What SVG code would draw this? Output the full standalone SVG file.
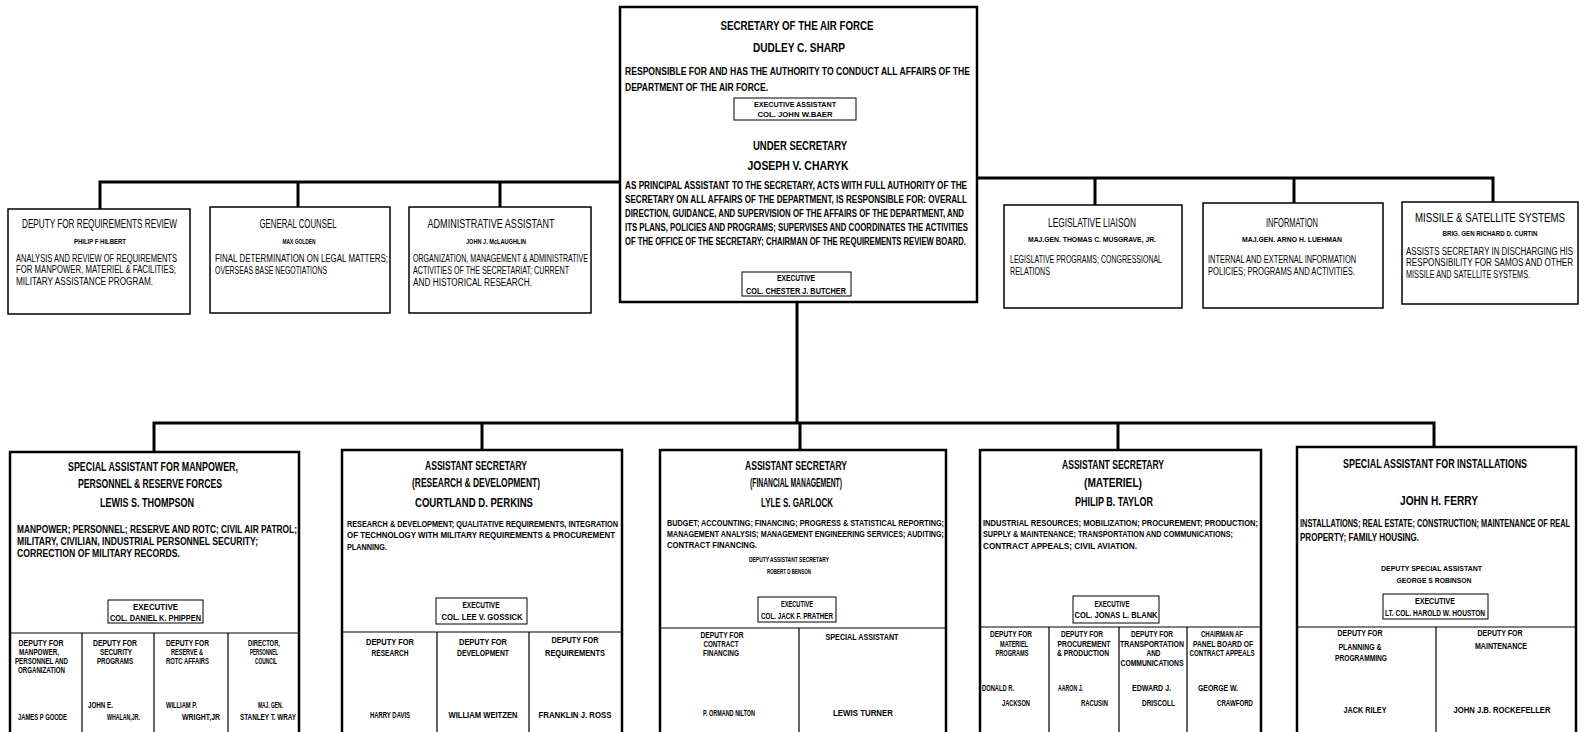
<svg xmlns="http://www.w3.org/2000/svg" width="1585" height="732" viewBox="0 0 1585 732">
<style>
text{font-family:"Liberation Sans",Arial,sans-serif;fill:#000}
.h{font-size:12.5px;font-weight:bold}
.hl{font-size:13px}
.pt{font-size:11px;font-weight:bold}
.p{font-size:10px;font-weight:bold}
.q{font-size:9.5px;font-weight:bold}
.pl{font-size:10px}
.s{font-size:7px;font-weight:bold}
.c{font-size:8.5px;font-weight:bold}
.x{font-size:8.5px;font-weight:bold}
.m{text-anchor:middle}
.e{text-anchor:end}
.box{fill:#fff;stroke:#000;stroke-width:2.5}
.lbox{fill:#fff;stroke:#000;stroke-width:1.5}
.ebox{fill:none;stroke:#000;stroke-width:1}
.div{stroke:#000;stroke-width:1.2;fill:none}
.con{stroke:#000;stroke-width:3;fill:none}
</style>
<rect x="0" y="0" width="1585" height="732" fill="#fff"/>
<g id="connectors">
<path class="con" d="M100 209V182H620M977 178H1493V202M298 182V207M500 182V207M1095 178V205M1294 178V203"/>
<path class="con" d="M797 302V423M154 452V423H1434V447M482 423V450M800 423V450M1118 423V450"/>
</g>
<g id="secretary">
<rect class="box" x="620" y="7" width="357" height="295"/>
<text class="h m" x="797" y="29.5" textLength="153" lengthAdjust="spacingAndGlyphs">SECRETARY OF THE AIR FORCE</text>
<text class="h m" x="799" y="51.5" textLength="92" lengthAdjust="spacingAndGlyphs">DUDLEY C. SHARP</text>
<text class="pt" x="625" y="75" textLength="345" lengthAdjust="spacingAndGlyphs">RESPONSIBLE FOR AND HAS THE AUTHORITY TO CONDUCT ALL AFFAIRS OF THE</text>
<text class="pt" x="625" y="91" textLength="143" lengthAdjust="spacingAndGlyphs">DEPARTMENT OF THE AIR FORCE.</text>
<rect class="ebox" x="734" y="98" width="122" height="22"/>
<text class="s m" x="795" y="107" textLength="82" lengthAdjust="spacingAndGlyphs">EXECUTIVE ASSISTANT</text>
<text class="s m" x="795" y="117" textLength="75" lengthAdjust="spacingAndGlyphs">COL. JOHN W.BAER</text>
<text class="h m" x="800" y="149.5" textLength="94" lengthAdjust="spacingAndGlyphs">UNDER SECRETARY</text>
<text class="h m" x="798" y="169.5" textLength="101" lengthAdjust="spacingAndGlyphs">JOSEPH V. CHARYK</text>
<text class="pt" x="625" y="189" textLength="342" lengthAdjust="spacingAndGlyphs">AS PRINCIPAL ASSISTANT TO THE SECRETARY, ACTS WITH FULL AUTHORITY OF THE</text>
<text class="pt" x="625" y="203" textLength="342" lengthAdjust="spacingAndGlyphs">SECRETARY ON ALL AFFAIRS OF THE DEPARTMENT, IS RESPONSIBLE FOR: OVERALL</text>
<text class="pt" x="625" y="217" textLength="339" lengthAdjust="spacingAndGlyphs">DIRECTION, GUIDANCE, AND SUPERVISION OF THE AFFAIRS OF THE DEPARTMENT, AND</text>
<text class="pt" x="625" y="231" textLength="343" lengthAdjust="spacingAndGlyphs">ITS PLANS, POLICIES AND PROGRAMS; SUPERVISES AND COORDINATES THE ACTIVITIES</text>
<text class="pt" x="625" y="245" textLength="341" lengthAdjust="spacingAndGlyphs">OF THE OFFICE OF THE SECRETARY; CHAIRMAN OF THE REQUIREMENTS REVIEW BOARD.</text>
<rect class="ebox" x="742" y="272" width="109" height="24"/>
<text class="x m" x="796" y="281" textLength="38" lengthAdjust="spacingAndGlyphs">EXECUTIVE</text>
<text class="x m" x="796" y="294" textLength="100" lengthAdjust="spacingAndGlyphs">COL. CHESTER J. BUTCHER</text>
</g>
<g id="deputy-requirements-review">
<rect class="lbox" x="8" y="209" width="182" height="105"/>
<text class="hl m" x="99.5" y="228" textLength="155" lengthAdjust="spacingAndGlyphs">DEPUTY FOR REQUIREMENTS REVIEW</text>
<text class="s m" x="100" y="244" textLength="52" lengthAdjust="spacingAndGlyphs">PHILIP F HILBERT</text>
<text class="pl" x="16" y="261.5" textLength="161" lengthAdjust="spacingAndGlyphs">ANALYSIS AND REVIEW OF REQUIREMENTS</text>
<text class="pl" x="16" y="273" textLength="160" lengthAdjust="spacingAndGlyphs">FOR MANPOWER, MATERIEL &amp; FACILITIES;</text>
<text class="pl" x="16" y="284.5" textLength="137" lengthAdjust="spacingAndGlyphs">MILITARY ASSISTANCE PROGRAM.</text>
</g>
<g id="general-counsel">
<rect class="lbox" x="210" y="207" width="180" height="106"/>
<text class="hl m" x="298" y="228" textLength="77" lengthAdjust="spacingAndGlyphs">GENERAL COUNSEL</text>
<text class="s m" x="299" y="244" textLength="33" lengthAdjust="spacingAndGlyphs">MAX GOLDEN</text>
<text class="pl" x="215" y="261.5" textLength="173" lengthAdjust="spacingAndGlyphs">FINAL DETERMINATION ON LEGAL MATTERS;</text>
<text class="pl" x="215" y="273.5" textLength="112" lengthAdjust="spacingAndGlyphs">OVERSEAS BASE NEGOTIATIONS</text>
</g>
<g id="administrative-assistant">
<rect class="lbox" x="409" y="207" width="182" height="106"/>
<text class="hl m" x="491" y="228" textLength="127" lengthAdjust="spacingAndGlyphs">ADMINISTRATIVE ASSISTANT</text>
<text class="s m" x="496" y="244" textLength="60" lengthAdjust="spacingAndGlyphs">JOHN J. McLAUGHLIN</text>
<text class="pl" x="413" y="261.5" textLength="175" lengthAdjust="spacingAndGlyphs">ORGANIZATION, MANAGEMENT &amp; ADMINISTRATIVE</text>
<text class="pl" x="413" y="273.5" textLength="156" lengthAdjust="spacingAndGlyphs">ACTIVITIES OF THE SECRETARIAT; CURRENT</text>
<text class="pl" x="413" y="285.5" textLength="119" lengthAdjust="spacingAndGlyphs">AND HISTORICAL RESEARCH.</text>
</g>
<g id="legislative-liaison">
<rect class="lbox" x="1004" y="205" width="178" height="103"/>
<text class="hl m" x="1092" y="226.5" textLength="88" lengthAdjust="spacingAndGlyphs">LEGISLATIVE LIAISON</text>
<text class="s m" x="1092" y="242" textLength="128" lengthAdjust="spacingAndGlyphs">MAJ.GEN. THOMAS C. MUSGRAVE, JR.</text>
<text class="pl" x="1010" y="262.5" textLength="152" lengthAdjust="spacingAndGlyphs">LEGISLATIVE PROGRAMS; CONGRESSIONAL</text>
<text class="pl" x="1010" y="274.5" textLength="40" lengthAdjust="spacingAndGlyphs">RELATIONS</text>
</g>
<g id="information">
<rect class="lbox" x="1203" y="203" width="180" height="105"/>
<text class="hl m" x="1292" y="226.5" textLength="52" lengthAdjust="spacingAndGlyphs">INFORMATION</text>
<text class="s m" x="1292" y="242" textLength="100" lengthAdjust="spacingAndGlyphs">MAJ.GEN. ARNO H. LUEHMAN</text>
<text class="pl" x="1208" y="262.5" textLength="148" lengthAdjust="spacingAndGlyphs">INTERNAL AND EXTERNAL INFORMATION</text>
<text class="pl" x="1208" y="274.5" textLength="147" lengthAdjust="spacingAndGlyphs">POLICIES; PROGRAMS AND ACTIVITIES.</text>
</g>
<g id="missile-satellite-systems">
<rect class="lbox" x="1402" y="202" width="176" height="102"/>
<text class="hl e" x="1565" y="221.5" textLength="150" lengthAdjust="spacingAndGlyphs">MISSILE &amp; SATELLITE SYSTEMS</text>
<text class="s m" x="1490" y="236" textLength="95" lengthAdjust="spacingAndGlyphs">BRIG. GEN RICHARD D. CURTIN</text>
<text class="pl e" x="1573" y="254.5" textLength="167" lengthAdjust="spacingAndGlyphs">ASSISTS SECRETARY IN DISCHARGING HIS</text>
<text class="pl e" x="1573" y="266" textLength="167" lengthAdjust="spacingAndGlyphs">RESPONSIBILITY FOR SAMOS AND OTHER</text>
<text class="pl e" x="1530" y="277.5" textLength="124" lengthAdjust="spacingAndGlyphs">MISSILE AND SATELLITE SYSTEMS.</text>
</g>
<g id="manpower">
<rect class="box" x="10" y="452" width="289" height="295"/>
<text class="h m" x="153" y="470.5" textLength="170" lengthAdjust="spacingAndGlyphs">SPECIAL ASSISTANT FOR MANPOWER,</text>
<text class="h m" x="150" y="487.5" textLength="144" lengthAdjust="spacingAndGlyphs">PERSONNEL &amp; RESERVE FORCES</text>
<text class="h m" x="147" y="506.5" textLength="94" lengthAdjust="spacingAndGlyphs">LEWIS S. THOMPSON</text>
<text class="p" x="17" y="532.5" textLength="280" lengthAdjust="spacingAndGlyphs">MANPOWER; PERSONNEL; RESERVE AND ROTC; CIVIL AIR PATROL;</text>
<text class="p" x="17" y="544.5" textLength="241" lengthAdjust="spacingAndGlyphs">MILITARY, CIVILIAN, INDUSTRIAL PERSONNEL SECURITY;</text>
<text class="p" x="17" y="556.5" textLength="163" lengthAdjust="spacingAndGlyphs">CORRECTION OF MILITARY RECORDS.</text>
<rect class="ebox" x="108" y="600" width="95" height="23"/>
<text class="x m" x="155.5" y="610" textLength="45" lengthAdjust="spacingAndGlyphs">EXECUTIVE</text>
<text class="x m" x="155.5" y="621" textLength="91" lengthAdjust="spacingAndGlyphs">COL. DANIEL K. PHIPPEN</text>
<path class="div" d="M10 633H299M82 633V740M154 633V740M228 633V740"/>
<text class="c m" x="41" y="646" textLength="45" lengthAdjust="spacingAndGlyphs">DEPUTY FOR</text>
<text class="c m" x="39" y="655" textLength="40" lengthAdjust="spacingAndGlyphs">MANPOWER,</text>
<text class="c m" x="41.5" y="664" textLength="53" lengthAdjust="spacingAndGlyphs">PERSONNEL AND</text>
<text class="c m" x="41.5" y="673" textLength="47" lengthAdjust="spacingAndGlyphs">ORGANIZATION</text>
<text class="c m" x="42.5" y="720" textLength="49" lengthAdjust="spacingAndGlyphs">JAMES P GOODE</text>
<text class="c m" x="115" y="646" textLength="44" lengthAdjust="spacingAndGlyphs">DEPUTY FOR</text>
<text class="c m" x="116" y="655" textLength="32" lengthAdjust="spacingAndGlyphs">SECURITY</text>
<text class="c m" x="115" y="664" textLength="36" lengthAdjust="spacingAndGlyphs">PROGRAMS</text>
<text class="c" x="88" y="708" textLength="25" lengthAdjust="spacingAndGlyphs">JOHN E.</text>
<text class="c" x="107" y="720" textLength="33" lengthAdjust="spacingAndGlyphs">WHALAN,JR.</text>
<text class="c m" x="187.5" y="646" textLength="43" lengthAdjust="spacingAndGlyphs">DEPUTY FOR</text>
<text class="c m" x="187" y="655" textLength="32" lengthAdjust="spacingAndGlyphs">RESERVE &amp;</text>
<text class="c m" x="187.5" y="664" textLength="43" lengthAdjust="spacingAndGlyphs">ROTC AFFAIRS</text>
<text class="c" x="166" y="708" textLength="31" lengthAdjust="spacingAndGlyphs">WILLIAM P.</text>
<text class="c" x="182" y="720" textLength="38" lengthAdjust="spacingAndGlyphs">WRIGHT,JR</text>
<text class="c m" x="264" y="646" textLength="32" lengthAdjust="spacingAndGlyphs">DIRECTOR,</text>
<text class="c m" x="264" y="655" textLength="28" lengthAdjust="spacingAndGlyphs">PERSONNEL</text>
<text class="c m" x="266" y="664" textLength="22" lengthAdjust="spacingAndGlyphs">COUNCIL</text>
<text class="c m" x="270.5" y="708" textLength="25" lengthAdjust="spacingAndGlyphs">MAJ. GEN.</text>
<text class="c m" x="268" y="720" textLength="56" lengthAdjust="spacingAndGlyphs">STANLEY T. WRAY</text>
</g>
<g id="research-development">
<rect class="box" x="342" y="450" width="280" height="297"/>
<text class="h m" x="476" y="469.5" textLength="102" lengthAdjust="spacingAndGlyphs">ASSISTANT SECRETARY</text>
<text class="h m" x="476" y="486.5" textLength="128" lengthAdjust="spacingAndGlyphs">(RESEARCH &amp; DEVELOPMENT)</text>
<text class="h m" x="474" y="506.5" textLength="118" lengthAdjust="spacingAndGlyphs">COURTLAND D. PERKINS</text>
<text class="q" x="347" y="526.5" textLength="271" lengthAdjust="spacingAndGlyphs">RESEARCH &amp; DEVELOPMENT; QUALITATIVE REQUIREMENTS, INTEGRATION</text>
<text class="q" x="347" y="537.5" textLength="268" lengthAdjust="spacingAndGlyphs">OF TECHNOLOGY WITH MILITARY REQUIREMENTS &amp; PROCUREMENT</text>
<text class="q" x="347" y="549.5" textLength="40" lengthAdjust="spacingAndGlyphs">PLANNING.</text>
<rect class="ebox" x="436" y="598" width="91" height="26"/>
<text class="x m" x="481" y="608" textLength="37" lengthAdjust="spacingAndGlyphs">EXECUTIVE</text>
<text class="x m" x="482" y="620" textLength="81" lengthAdjust="spacingAndGlyphs">COL. LEE V. GOSSICK</text>
<path class="div" d="M342 632H622M437 632V740M529 632V740"/>
<text class="c m" x="390" y="645" textLength="48" lengthAdjust="spacingAndGlyphs">DEPUTY FOR</text>
<text class="c m" x="390" y="656" textLength="37" lengthAdjust="spacingAndGlyphs">RESEARCH</text>
<text class="c m" x="390" y="718" textLength="40" lengthAdjust="spacingAndGlyphs">HARRY DAVIS</text>
<text class="c m" x="483" y="645" textLength="48" lengthAdjust="spacingAndGlyphs">DEPUTY FOR</text>
<text class="c m" x="483" y="656" textLength="52" lengthAdjust="spacingAndGlyphs">DEVELOPMENT</text>
<text class="c m" x="483" y="718" textLength="69" lengthAdjust="spacingAndGlyphs">WILLIAM WEITZEN</text>
<text class="c m" x="575" y="643" textLength="47" lengthAdjust="spacingAndGlyphs">DEPUTY FOR</text>
<text class="c m" x="575" y="656" textLength="60" lengthAdjust="spacingAndGlyphs">REQUIREMENTS</text>
<text class="c m" x="575" y="718" textLength="73" lengthAdjust="spacingAndGlyphs">FRANKLIN J. ROSS</text>
</g>
<g id="financial-management">
<rect class="box" x="660" y="450" width="286" height="297"/>
<text class="h m" x="796" y="469.5" textLength="102" lengthAdjust="spacingAndGlyphs">ASSISTANT SECRETARY</text>
<text class="h m" x="796" y="486.5" textLength="92" lengthAdjust="spacingAndGlyphs">(FINANCIAL MANAGEMENT)</text>
<text class="h m" x="797" y="506.5" textLength="72" lengthAdjust="spacingAndGlyphs">LYLE S. GARLOCK</text>
<text class="q" x="667" y="525.5" textLength="277" lengthAdjust="spacingAndGlyphs">BUDGET; ACCOUNTING; FINANCING; PROGRESS &amp; STATISTICAL REPORTING;</text>
<text class="q" x="667" y="536.5" textLength="277" lengthAdjust="spacingAndGlyphs">MANAGEMENT ANALYSIS; MANAGEMENT ENGINEERING SERVICES; AUDITING;</text>
<text class="q" x="667" y="547.5" textLength="90" lengthAdjust="spacingAndGlyphs">CONTRACT FINANCING.</text>
<text class="s m" x="789" y="562" textLength="80" lengthAdjust="spacingAndGlyphs">DEPUTY ASSISTANT SECRETARY</text>
<text class="s m" x="789" y="574" textLength="44" lengthAdjust="spacingAndGlyphs">ROBERT D BENSON</text>
<rect class="ebox" x="758" y="597" width="78" height="25"/>
<text class="x m" x="797" y="607" textLength="32" lengthAdjust="spacingAndGlyphs">EXECUTIVE</text>
<text class="x m" x="797" y="619" textLength="72" lengthAdjust="spacingAndGlyphs">COL. JACK F. PRATHER</text>
<path class="div" d="M660 628H946M799 628V740"/>
<text class="c m" x="722" y="638" textLength="43" lengthAdjust="spacingAndGlyphs">DEPUTY FOR</text>
<text class="c m" x="721" y="647" textLength="35" lengthAdjust="spacingAndGlyphs">CONTRACT</text>
<text class="c m" x="721" y="656" textLength="36" lengthAdjust="spacingAndGlyphs">FINANCING</text>
<text class="c m" x="729" y="716" textLength="52" lengthAdjust="spacingAndGlyphs">P. ORMAND NILTON</text>
<text class="c m" x="862" y="640" textLength="73" lengthAdjust="spacingAndGlyphs">SPECIAL ASSISTANT</text>
<text class="c m" x="863" y="716" textLength="60" lengthAdjust="spacingAndGlyphs">LEWIS TURNER</text>
</g>
<g id="materiel">
<rect class="box" x="980" y="450" width="281" height="297"/>
<text class="h m" x="1113" y="468.5" textLength="102" lengthAdjust="spacingAndGlyphs">ASSISTANT SECRETARY</text>
<text class="h m" x="1113" y="486.5" textLength="58" lengthAdjust="spacingAndGlyphs">(MATERIEL)</text>
<text class="h m" x="1114" y="505.5" textLength="78" lengthAdjust="spacingAndGlyphs">PHILIP B. TAYLOR</text>
<text class="q" x="983" y="525.5" textLength="275" lengthAdjust="spacingAndGlyphs">INDUSTRIAL RESOURCES; MOBILIZATION; PROCUREMENT; PRODUCTION;</text>
<text class="q" x="983" y="536.5" textLength="250" lengthAdjust="spacingAndGlyphs">SUPPLY &amp; MAINTENANCE; TRANSPORTATION AND COMMUNICATIONS;</text>
<text class="q" x="983" y="548.5" textLength="154" lengthAdjust="spacingAndGlyphs">CONTRACT APPEALS; CIVIL AVIATION.</text>
<rect class="ebox" x="1073" y="596" width="86" height="27"/>
<text class="x m" x="1112" y="607" textLength="35" lengthAdjust="spacingAndGlyphs">EXECUTIVE</text>
<text class="x m" x="1116" y="618" textLength="83" lengthAdjust="spacingAndGlyphs">COL. JONAS L. BLANK</text>
<path class="div" d="M980 627H1261M1049 627V740M1119 627V740M1187 627V740"/>
<text class="c m" x="1011" y="637" textLength="42" lengthAdjust="spacingAndGlyphs">DEPUTY FOR</text>
<text class="c m" x="1014" y="647" textLength="28" lengthAdjust="spacingAndGlyphs">MATERIEL</text>
<text class="c m" x="1012" y="656" textLength="33" lengthAdjust="spacingAndGlyphs">PROGRAMS</text>
<text class="c" x="982" y="691" textLength="32" lengthAdjust="spacingAndGlyphs">DONALD R.</text>
<text class="c" x="1002" y="706" textLength="28" lengthAdjust="spacingAndGlyphs">JACKSON</text>
<text class="c m" x="1082" y="637" textLength="42" lengthAdjust="spacingAndGlyphs">DEPUTY FOR</text>
<text class="c m" x="1084" y="647" textLength="53" lengthAdjust="spacingAndGlyphs">PROCUREMENT</text>
<text class="c m" x="1083" y="656" textLength="52" lengthAdjust="spacingAndGlyphs">&amp; PRODUCTION</text>
<text class="c" x="1058" y="691" textLength="25" lengthAdjust="spacingAndGlyphs">AARON J.</text>
<text class="c" x="1081" y="706" textLength="27" lengthAdjust="spacingAndGlyphs">RACUSIN</text>
<text class="c m" x="1152" y="637" textLength="42" lengthAdjust="spacingAndGlyphs">DEPUTY FOR</text>
<text class="c m" x="1152" y="647" textLength="64" lengthAdjust="spacingAndGlyphs">TRANSPORTATION</text>
<text class="c m" x="1153.5" y="656" textLength="14" lengthAdjust="spacingAndGlyphs">AND</text>
<text class="c m" x="1152" y="666" textLength="63" lengthAdjust="spacingAndGlyphs">COMMUNICATIONS</text>
<text class="c" x="1132" y="691" textLength="39" lengthAdjust="spacingAndGlyphs">EDWARD J.</text>
<text class="c" x="1142" y="706" textLength="33" lengthAdjust="spacingAndGlyphs">DRISCOLL</text>
<text class="c m" x="1222" y="637" textLength="42" lengthAdjust="spacingAndGlyphs">CHAIRMAN AF</text>
<text class="c m" x="1223" y="647" textLength="60" lengthAdjust="spacingAndGlyphs">PANEL BOARD OF</text>
<text class="c m" x="1222" y="656" textLength="65" lengthAdjust="spacingAndGlyphs">CONTRACT APPEALS</text>
<text class="c" x="1198" y="691" textLength="40" lengthAdjust="spacingAndGlyphs">GEORGE W.</text>
<text class="c" x="1217" y="706" textLength="36" lengthAdjust="spacingAndGlyphs">CRAWFORD</text>
</g>
<g id="installations">
<rect class="box" x="1297" y="447" width="279" height="300"/>
<text class="h m" x="1435" y="467.5" textLength="184" lengthAdjust="spacingAndGlyphs">SPECIAL ASSISTANT FOR INSTALLATIONS</text>
<text class="h m" x="1439" y="504.5" textLength="78" lengthAdjust="spacingAndGlyphs">JOHN H. FERRY</text>
<text class="p e" x="1570" y="526.5" textLength="270" lengthAdjust="spacingAndGlyphs">INSTALLATIONS; REAL ESTATE; CONSTRUCTION; MAINTENANCE OF REAL</text>
<text class="p" x="1300" y="540.5" textLength="119" lengthAdjust="spacingAndGlyphs">PROPERTY; FAMILY HOUSING.</text>
<text class="s m" x="1431.5" y="571" textLength="101" lengthAdjust="spacingAndGlyphs">DEPUTY SPECIAL ASSISTANT</text>
<text class="s m" x="1434" y="583" textLength="75" lengthAdjust="spacingAndGlyphs">GEORGE S ROBINSON</text>
<rect class="ebox" x="1383" y="594" width="105" height="25"/>
<text class="x m" x="1435" y="604" textLength="40" lengthAdjust="spacingAndGlyphs">EXECUTIVE</text>
<text class="x m" x="1435" y="616" textLength="100" lengthAdjust="spacingAndGlyphs">LT. COL. HAROLD W. HOUSTON</text>
<path class="div" d="M1297 627H1576M1436 627V740"/>
<text class="c m" x="1360" y="636" textLength="45" lengthAdjust="spacingAndGlyphs">DEPUTY FOR</text>
<text class="c m" x="1360" y="650" textLength="43" lengthAdjust="spacingAndGlyphs">PLANNING &amp;</text>
<text class="c m" x="1361" y="661" textLength="52" lengthAdjust="spacingAndGlyphs">PROGRAMMING</text>
<text class="c m" x="1365" y="713" textLength="43" lengthAdjust="spacingAndGlyphs">JACK RILEY</text>
<text class="c m" x="1500" y="636" textLength="45" lengthAdjust="spacingAndGlyphs">DEPUTY FOR</text>
<text class="c m" x="1501" y="649" textLength="52" lengthAdjust="spacingAndGlyphs">MAINTENANCE</text>
<text class="c m" x="1502" y="713" textLength="97" lengthAdjust="spacingAndGlyphs">JOHN J.B. ROCKEFELLER</text>
</g>
</svg>
